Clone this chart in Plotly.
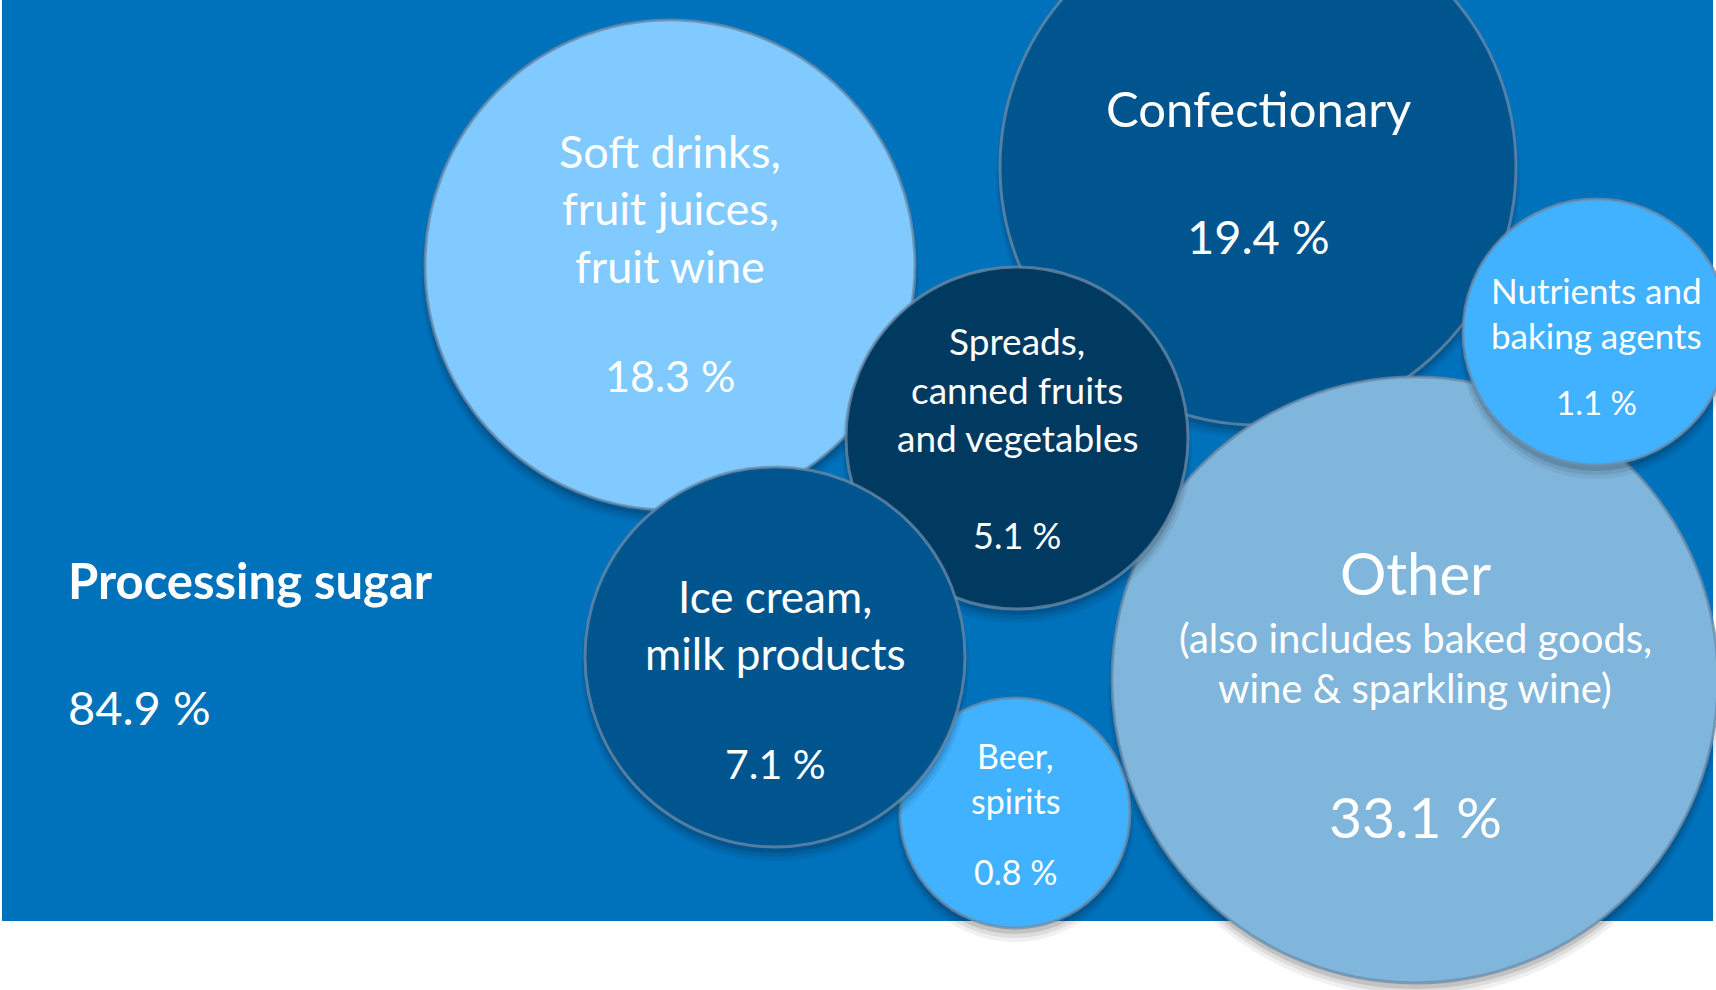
import plotly.graph_objects as go

# ---- data ----
categories = ["Soft drinks, fruit juices, fruit wine", "Confectionary",
              "Spreads, canned fruits and vegetables", "Nutrients and baking agents",
              "Ice cream, milk products", "Beer, spirits",
              "Other (also includes baked goods, wine & sparkling wine)"]
label_lines = [
    ["Soft drinks,", "fruit juices,", "fruit wine"],
    ["Confectionary"],
    ["Spreads,", "canned fruits", "and vegetables"],
    ["Nutrients and", "baking agents"],
    ["Ice cream,", "milk products"],
    ["Beer,", "spirits"],
    ["Other", "(also includes baked goods,", "wine & sparkling wine)"],
]
shares = [18.3, 19.4, 5.1, 1.1, 7.1, 0.8, 33.1]
total_label = "Processing sugar"
total_share = 84.9

# ---- layout (pixel coordinates, y downward) ----
W, H = 1716, 990
cx = [670, 1258, 1017, 1596, 775, 1015, 1415]
cy = [265, 167, 438, 332, 657, 813, 680]
rad = [245, 258, 171, 133, 190, 115, 303]
fills = ["#80CAFF", "#00558E", "#003A60", "#40B2FF", "#00558E", "#40B2FF", "#80B6DC"]
line_y = [[151, 208, 266], [108], [340, 389, 437], [290, 335], [596, 653], [755, 800],
          [572, 638, 688]]
line_size = [[45, 45, 45], [49], [37, 37, 37], [35, 35], [44, 44], [34, 34], [58, 40, 40]]
value_y = [375, 236, 535, 402, 763, 871, 816]
value_size = [43, 47, 36, 33, 41, 34, 57]
z_order = [1, 0, 6, 5, 2, 4, 3]  # drawing order, bottom to top

FONT = "Lato"
fig = go.Figure()

for i in z_order:
    d = 2 * rad[i]
    # soft drop shadow
    for off, grow, a in [(10, 8, 0.06), (8, 4, 0.08), (6, 0, 0.12)]:
        fig.add_trace(go.Scatter(
            x=[cx[i]], y=[cy[i] + off], mode="markers",
            marker=dict(size=d + grow, color=f"rgba(0,0,0,{a})", line=dict(width=0)),
            hoverinfo="skip", showlegend=False))
    fig.add_trace(go.Scatter(
        x=[cx[i]], y=[cy[i]], mode="markers",
        marker=dict(size=d, color=fills[i],
                    line=dict(width=3, color="rgba(110,140,170,0.75)")),
        name=categories[i], hovertext=f"{categories[i]}: {shares[i]} %",
        hoverinfo="text", showlegend=False))

annotations = []
for i in range(len(categories)):
    for txt, yy, sz in zip(label_lines[i], line_y[i], line_size[i]):
        annotations.append(dict(x=cx[i], y=yy, text=txt, showarrow=False,
                                xanchor="center", yanchor="middle",
                                font=dict(family=FONT, size=sz, color="white")))
    annotations.append(dict(x=cx[i], y=value_y[i], text=f"{shares[i]} %", showarrow=False,
                            xanchor="center", yanchor="middle",
                            font=dict(family=FONT, size=value_size[i], color="white")))

annotations.append(dict(x=66, y=580, text=f"<b>{total_label}</b>", showarrow=False,
                        xanchor="left", yanchor="middle",
                        font=dict(family=FONT, size=49, color="white")))
annotations.append(dict(x=66, y=707, text=f"{total_share} %", showarrow=False,
                        xanchor="left", yanchor="middle",
                        font=dict(family=FONT, size=47, color="white")))

fig.update_layout(
    width=W, height=H, margin=dict(l=0, r=0, t=0, b=0),
    paper_bgcolor="white", plot_bgcolor="white",
    xaxis=dict(range=[0, W], visible=False, fixedrange=True),
    yaxis=dict(range=[H, 0], visible=False, fixedrange=True),
    shapes=[dict(type="rect", xref="x", yref="y", x0=2, x1=1713, y0=0, y1=921,
                 fillcolor="#0071BB", line=dict(width=0), layer="below")],
    annotations=annotations,
)

fig.write_html("out.html")
